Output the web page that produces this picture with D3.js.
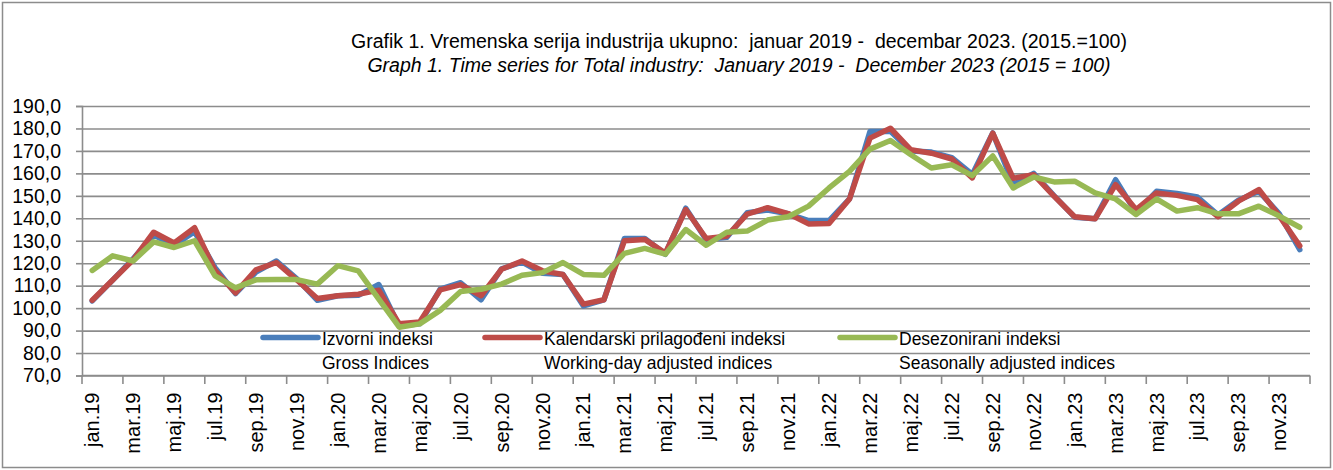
<!DOCTYPE html>
<html>
<head>
<meta charset="utf-8">
<script src="https://cdn.jsdelivr.net/npm/d3@7"></script>
<style>
  body { margin: 0; background: #fff; }
  text { font-family: "Liberation Sans", Arial, sans-serif; fill: #000; }
  .title { white-space: pre; }
</style>
</head>
<body>
<div class="canvas"></div>
<script>
// month labels (Serbian)
const months = ['jan', 'feb', 'mar', 'apr', 'maj', 'jun', 'jul', 'avg', 'sep', 'okt', 'nov', 'dec'];
const years = ['19', '20', '21', '22', '23'];
const categories = [];
years.forEach(y => months.forEach(m => categories.push(m + '.' + y)));

// Izvorni indeksi / Gross Indices
const gross = [103.2, 112.5, 122, 132.5, 128, 134, 118, 106.5, 116, 121, 113, 103.5,
  105.5, 105.7, 110.5, 92, 93, 108.5, 111.3, 103.7, 117.5, 120.5, 115.5, 115,
  101, 103.7, 131, 131, 124, 144.5, 130.5, 131.5, 142.5, 143.7, 142, 139,
  139, 148.6, 178.6, 178.7, 170, 169.5, 167, 159.5, 178, 155, 160, 150,
  140.5, 139.8, 157.2, 142.5, 152, 151, 149.5, 141.5, 148, 152, 142, 126];

// Kalendarski prilagođeni indeksi / Working-day adjusted indices
const workday = [103.5, 112.5, 121.5, 133.8, 129, 135.8, 116.8, 106.8, 117, 120.3, 112.5, 104.3,
  105.5, 106.2, 108, 93, 93.8, 108.1, 110.5, 105.5, 117.3, 121, 116.6, 115,
  101.8, 103.7, 130, 130.6, 124.5, 143.9, 131, 132, 141.9, 144.7, 142.1, 137.5,
  137.7, 148.6, 175.7, 180.1, 170.5, 169, 166.4, 158, 177.9, 157.8, 159.4, 149.8,
  140.7, 139.8, 155, 143.9, 151.3, 150.2, 148.3, 140.7, 147.6, 152.8, 141, 127.7];

// Desezonirani indeksi / Seasonally adjusted indices
const seasonal = [116.8, 123.3, 121, 129.5, 127, 130, 114.4, 109, 112.6, 112.8, 112.7, 110.7,
  118.9, 116.6, 104, 91.5, 93, 99, 107.4, 108.4, 110.7, 114.6, 115.8, 120.3,
  115, 114.6, 124.4, 126.6, 124, 135, 128, 133.8, 134.3, 139.2, 140.7, 145.4,
  153.5, 160.9, 170.8, 174.6, 168.3, 162.4, 163.8, 159, 167.8, 153.5, 158.4, 156.2,
  156.5, 151.3, 148.6, 141.7, 148.6, 143.2, 144.7, 142, 142, 145.4, 141, 136];

const yTicks = [70, 80, 90, 100, 110, 120, 130, 140, 150, 160, 170, 180, 190];

const series = [
  { name: 'Izvorni indeksi', en: 'Gross Indices', values: gross, color: '#4a7ebb' },
  { name: 'Kalendarski prilagođeni indeksi', en: 'Working-day adjusted indices', values: workday, color: '#be4b48' },
  { name: 'Desezonirani indeksi', en: 'Seasonally adjusted indices', values: seasonal, color: '#98b954' }
];

const width = 1333;
const height = 470;
const margin = { top: 106, right: 23, bottom: 94.5, left: 82 };
const graphWidth = width - margin.left - margin.right;
const graphHeight = height - margin.top - margin.bottom;

const svg = d3.select('.canvas')
  .append('svg')
  .attr('width', width)
  .attr('height', height);

// outer frame
svg.append('rect')
  .attr('x', 2.5).attr('y', 2.5)
  .attr('width', width - 5).attr('height', height - 5)
  .attr('fill', 'none')
  .attr('stroke', '#8c8c8c')
  .attr('stroke-width', 1.5);

// titles
svg.append('text')
  .attr('class', 'title')
  .attr('x', 739).attr('y', 48)
  .attr('text-anchor', 'middle')
  .style('font-size', '19.5px')
  .text('Grafik 1. Vremenska serija industrija ukupno:  januar 2019 -  decembar 2023. (2015.=100)');
svg.append('text')
  .attr('class', 'title')
  .attr('x', 739).attr('y', 72)
  .attr('text-anchor', 'middle')
  .style('font-size', '19.5px')
  .style('font-style', 'italic')
  .text('Graph 1. Time series for Total industry:  January 2019 -  December 2023 (2015 = 100)');

const graph = svg.append('g')
  .attr('transform', `translate(${margin.left}, ${margin.top})`);

const x = d3.scaleBand()
  .domain(categories)
  .range([0, graphWidth])
  .padding(0);

const y = d3.scaleLinear()
  .domain([70, 190])
  .range([graphHeight, 0]);

// gridlines
const grid = graph.append('g')
  .call(d3.axisLeft(y).tickValues(yTicks).tickSize(-graphWidth).tickFormat(''));
grid.select('.domain').remove();
grid.selectAll('line')
  .attr('stroke', '#8c8c8c')
  .attr('stroke-width', 1.6);

// y axis
const gYAxis = graph.append('g')
  .call(d3.axisLeft(y)
    .tickValues(yTicks)
    .tickSize(6)
    .tickPadding(15)
    .tickFormat(d => d3.format('.1f')(d).replace('.', ',')));
gYAxis.selectAll('line').attr('stroke', '#8c8c8c').attr('stroke-width', 1.6);
gYAxis.select('.domain').attr('stroke', '#8c8c8c').attr('stroke-width', 1.6);
gYAxis.selectAll('text')
  .style('font-family', '"Liberation Sans", Arial, sans-serif')
  .style('font-size', '19.5px')
  .attr('fill', '#000');

// x axis: ticks at category boundaries every 2 months, labels at category centres
const gXAxis = graph.append('g')
  .attr('transform', `translate(0, ${graphHeight})`);
gXAxis.append('line')
  .attr('x1', 0).attr('x2', graphWidth)
  .attr('stroke', '#8c8c8c').attr('stroke-width', 1.6);
const labelled = categories.filter((c, i) => i % 2 === 0);
gXAxis.selectAll('.tick-b')
  .data(labelled.concat([null]))
  .enter()
  .append('line')
  .attr('x1', d => d === null ? graphWidth : x(d))
  .attr('x2', d => d === null ? graphWidth : x(d))
  .attr('y1', 0).attr('y2', 8.5)
  .attr('stroke', '#8c8c8c').attr('stroke-width', 1.6);
gXAxis.selectAll('.lbl')
  .data(labelled)
  .enter()
  .append('text')
  .attr('transform', d => `translate(${x(d) + x.bandwidth() / 2}, 17) rotate(-90)`)
  .attr('dy', '0.35em')
  .attr('text-anchor', 'end')
  .style('font-size', '20px')
  .text(d => d);

// lines
const line = d3.line()
  .x((d, i) => x(categories[i]) + x.bandwidth() / 2)
  .y(d => y(d));

series.forEach(s => {
  graph.append('path')
    .datum(s.values)
    .attr('d', line)
    .attr('fill', 'none')
    .attr('stroke', s.color)
    .attr('stroke-width', 5.5)
    .attr('stroke-linejoin', 'round')
    .attr('stroke-linecap', 'round');
});

// legend
const legendX = [263, 485, 840];
const legend = svg.append('g');
series.forEach((s, i) => {
  const g = legend.append('g').attr('transform', `translate(${legendX[i]}, 337.5)`);
  g.append('line')
    .attr('x1', 0).attr('x2', 55)
    .attr('stroke', s.color)
    .attr('stroke-width', 5.5)
    .attr('stroke-linecap', 'round');
  g.append('text')
    .attr('x', 59).attr('y', 7.5)
    .style('font-size', '17.5px')
    .text(s.name);
  g.append('text')
    .attr('x', 59).attr('y', 31.5)
    .style('font-size', '17.5px')
    .text(s.en);
});
</script>
</body>
</html>
